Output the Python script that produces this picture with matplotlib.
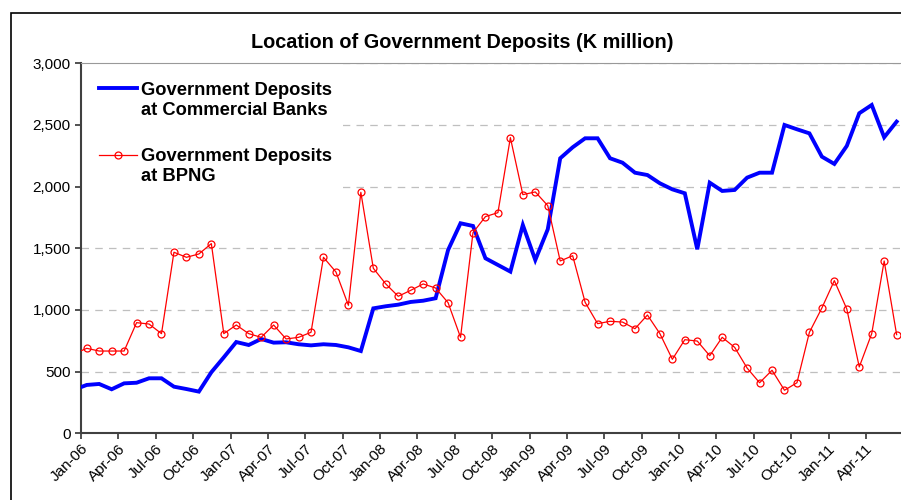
import matplotlib
matplotlib.use('Agg')
from matplotlib import pyplot as plt
from matplotlib.patches import Rectangle
from matplotlib.lines import Line2D
from matplotlib.ticker import FuncFormatter
import numpy as np

plt.rcParams['font.family'] = ['Liberation Sans', 'DejaVu Sans']

# monthly data, Dec-05 .. Jun-11 (K million)
commercial_banks = [354,
                    392, 400, 357, 405, 410, 446, 446, 378, 359, 338, 495, 616,
                    740, 716, 765, 735, 738, 722, 713, 722, 716, 697, 667, 1013,
                    1030, 1043, 1065, 1075, 1095, 1486, 1703, 1681, 1419, 1365, 1311, 1689,
                    1405, 1654, 2230, 2319, 2392, 2392, 2230, 2194, 2113, 2094, 2027, 1978,
                    1946, 1492, 2032, 1965, 1973, 2073, 2113, 2113, 2500, 2465, 2432, 2243,
                    2184, 2330, 2595, 2662, 2400, 2527]
bpng = [645,
        689, 667, 667, 667, 897, 886, 808, 1468, 1427, 1454, 1538, 808,
        878, 808, 778, 878, 765, 778, 819, 1427, 1308, 1038, 1954, 1338,
        1211, 1111, 1159, 1211, 1178, 1059, 778, 1627, 1757, 1789, 2397, 1935,
        1957, 1846, 1397, 1440, 1062, 889, 908, 902, 848, 959, 808, 600,
        759, 748, 629, 778, 697, 529, 410, 511, 349, 410, 819, 1016,
        1238, 1008, 538, 808, 1397, 800]
tick_labels = ['Jan-06', 'Apr-06', 'Jul-06', 'Oct-06', 'Jan-07', 'Apr-07', 'Jul-07', 'Oct-07',
               'Jan-08', 'Apr-08', 'Jul-08', 'Oct-08', 'Jan-09', 'Apr-09', 'Jul-09', 'Oct-09',
               'Jan-10', 'Apr-10', 'Jul-10', 'Oct-10', 'Jan-11', 'Apr-11']
series_names = ['Government Deposits\nat Commercial Banks', 'Government Deposits\nat BPNG']

# months since Jan-06, points sit mid-month
x = np.arange(-1, len(bpng) - 1) + 0.46

fig = plt.figure(figsize=(9.01, 5.0), dpi=100)
ax = fig.add_axes([81 / 901, 66.7 / 500, 819 / 901, 370 / 500])

blue_kw = dict(color='#0000ff', lw=2.8, solid_joinstyle='miter')
red_kw = dict(color='#ff0000', lw=0.9, marker='o', ms=5, mfc='none', mew=0.9)
ax.plot(x, commercial_banks, zorder=3, **blue_kw)
ax.plot(x, bpng, zorder=4, **red_kw)

ax.set_xlim(0, 65.73)
ax.set_ylim(0, 3000)
ax.set_yticks(np.arange(0, 3001, 500))
ax.yaxis.set_major_formatter(FuncFormatter(lambda v, p: f'{int(v):,}'))
ax.set_xticks(np.arange(0, 3 * len(tick_labels), 3))
ax.set_xticklabels(tick_labels, rotation=45, ha='right', va='top', rotation_mode='anchor')
ax.tick_params(axis='both', labelsize=11, colors='#333333', labelcolor='black',
               direction='out', length=4, width=1.2)
ax.tick_params(axis='x', pad=2)

ax.yaxis.grid(True, linestyle=(0, (6, 5)), color='#bfbfbf', lw=0.9)
ax.set_axisbelow(True)
for s in ['left', 'bottom']:
    ax.spines[s].set_color('#404040')
    ax.spines[s].set_linewidth(1.5)
ax.spines['top'].set_color('#999999')
ax.spines['right'].set_visible(False)

# legend drawn by hand (handles aligned with first text line, like Excel)
def px(xp, yp):
    return (xp - 81) / 819, (433.3 - yp) / 370

x0, y0 = px(81, 200)
x1, y1 = px(342, 64)
ax.add_patch(Rectangle((x0 + 0.001, y0), x1 - x0, y1 - y0, transform=ax.transAxes,
                       fc='white', ec='none', zorder=2))
for name, kw, yl, yt in [(series_names[0], blue_kw, 88, 82), (series_names[1], red_kw, 155, 148)]:
    ha, va = px(99, yl)
    hb, _ = px(137, yl)
    ax.add_line(Line2D([ha, hb], [va, va], transform=ax.transAxes, zorder=6,
                       **{k: v for k, v in kw.items() if k not in ('marker', 'ms', 'mfc', 'mew')}))
    if 'marker' in kw:
        hm, _ = px(118, yl)
        ax.add_line(Line2D([hm], [va], transform=ax.transAxes, zorder=6, ls='none', **kw))
    tx, ty = px(141, yt)
    ax.text(tx, ty, name, transform=ax.transAxes, ha='left', va='top', fontsize=13.2,
            fontweight='bold', linespacing=1.22, zorder=6)

fig.text(462 / 901, 1 - 42 / 500, 'Location of Government Deposits (K million)',
         ha='center', va='center', fontsize=14.3, fontweight='bold')

# chart area border
fig.patches.append(Rectangle((11 / 901, -0.1), 1.2, 1.1 - 13 / 500,
                             transform=fig.transFigure, fill=False, ec='black', lw=1.2))

fig.savefig('out.png', dpi=100)
